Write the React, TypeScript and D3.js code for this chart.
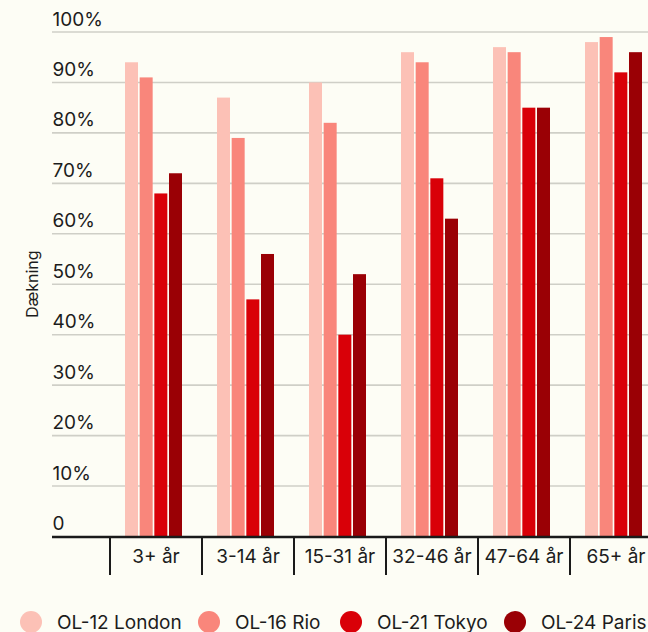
import React from "react";
import * as d3 from "d3";

const categories = ["3+ år", "3-14 år", "15-31 år", "32-46 år", "47-64 år", "65+ år"];
const seriesNames = ["OL-12 London", "OL-16 Rio", "OL-21 Tokyo", "OL-24 Paris"];
const london = [94, 87, 90, 96, 97, 98];
const rio = [91, 79, 82, 94, 96, 99];
const tokyo = [68, 47, 40, 71, 85, 92];
const paris = [72, 56, 52, 63, 85, 96];
const yTicks = [0, 10, 20, 30, 40, 50, 60, 70, 80, 90, 100];
const yTickLabels = ["0", "10%", "20%", "30%", "40%", "50%", "60%", "70%", "80%", "90%", "100%"];
const colors = ["#fcc1b6", "#f9867b", "#d90008", "#9a0005"];

const W = 648;
const H = 632;
const FONT = "Inter, 'Noto Sans', sans-serif";

export default function App() {
  const values = [london, rio, tokyo, paris];
  const y = d3.scaleLinear().domain([0, 100]).range([536.5, 32]);
  const x0 = d3.scaleBand<string>().domain(categories).range([110, 662]).padding(0);
  const x1 = d3.scaleBand<string>().domain(seriesNames).range([15, 72]).paddingInner(0.114).paddingOuter(0);
  const legendX = [31, 209, 351, 515];

  return (
    <svg width={W} height={H} style={{ position: "absolute", left: 0, top: 0 }} fontFamily={FONT}>
      <rect x={0} y={0} width={W} height={H} fill="#fdfdf5" />
      {yTicks.map((t, i) => (
        <g key={t}>
          {t > 0 && <line x1={52} x2={W} y1={y(t)} y2={y(t)} stroke="#cfcfc7" strokeWidth={1.6} />}
          <text x={52.5} y={y(t) - 6.5} fontSize={19} fill="#1c1c1c">{yTickLabels[i]}</text>
        </g>
      ))}
      <text transform={`translate(38,${(y(0) + y(100)) / 2}) rotate(-90)`} textAnchor="middle" fontSize={16} fill="#1c1c1c">Dækning</text>
      {categories.map((c, ci) => (
        <g key={c} transform={`translate(${x0(c)},0)`}>
          {seriesNames.map((s, si) => (
            <rect key={s} x={x1(s)} y={y(values[si][ci])} width={x1.bandwidth()} height={y(0) - y(values[si][ci])} fill={colors[si]} />
          ))}
          <line x1={0} x2={0} y1={y(0)} y2={575} stroke="#1a1a1a" strokeWidth={2} />
          <text x={x0.bandwidth() / 2} y={563} textAnchor="middle" fontSize={19} fill="#1c1c1c">{c}</text>
        </g>
      ))}
      <line x1={52} x2={W} y1={y(0) + 0.5} y2={y(0) + 0.5} stroke="#1a1a1a" strokeWidth={2.5} />
      {seriesNames.map((s, si) => (
        <g key={s}>
          <circle cx={legendX[si]} cy={622} r={11} fill={colors[si]} />
          <text x={legendX[si] + 26} y={629} fontSize={19} fill="#1c1c1c">{s}</text>
        </g>
      ))}
    </svg>
  );
}
